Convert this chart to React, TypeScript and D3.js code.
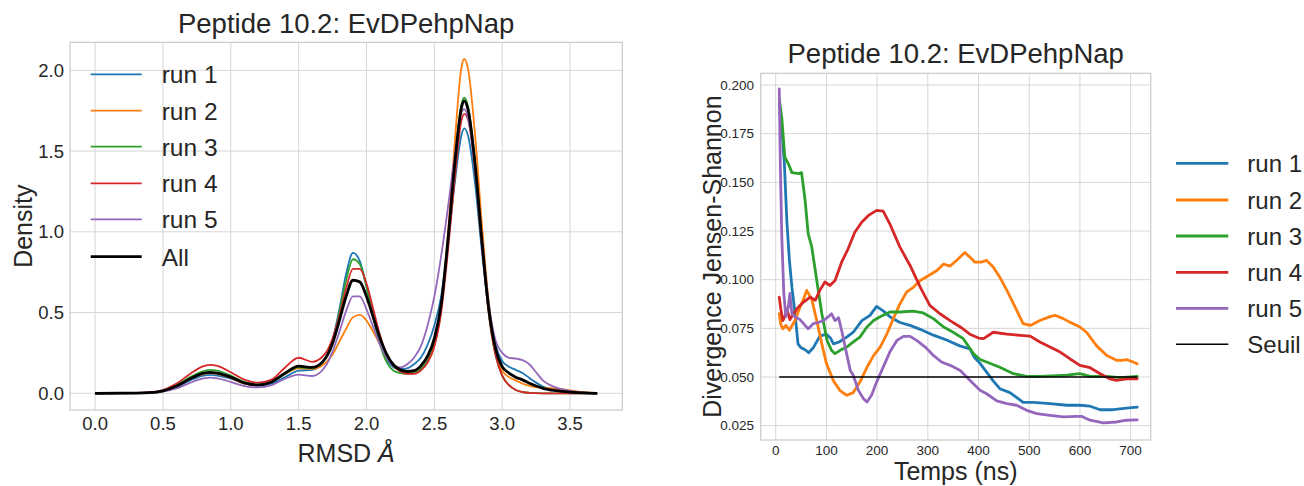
import React from "react";
import * as d3 from "d3";

const FONT = "'Liberation Sans', Arial, sans-serif";
const TXT = "#262626";
const GRID = "#d6d6d6";

// ---------- Left chart: KDE of RMSD ----------
const rmsdX = [0, 0.2, 0.4, 0.5, 0.6, 0.7, 0.8, 0.85, 0.9, 1.0, 1.1, 1.2, 1.3, 1.4, 1.5, 1.6, 1.7, 1.75, 1.8, 1.85, 1.9, 1.95, 2.0, 2.05, 2.1, 2.15, 2.2, 2.25, 2.3, 2.35, 2.4, 2.45, 2.5, 2.55, 2.6, 2.65, 2.7, 2.72, 2.75, 2.8, 2.85, 2.9, 2.95, 3.0, 3.05, 3.1, 3.15, 3.2, 3.25, 3.3, 3.4, 3.5, 3.6, 3.7];

const kdeRun1 = [0, 0.0003, 0.003, 0.013, 0.04, 0.08, 0.11, 0.114, 0.11, 0.09, 0.06, 0.048, 0.06, 0.1, 0.14, 0.145, 0.22, 0.33, 0.52, 0.74, 0.87, 0.82, 0.66, 0.47, 0.31, 0.21, 0.16, 0.15, 0.155, 0.18, 0.22, 0.3, 0.42, 0.6, 0.92, 1.3, 1.6, 1.64, 1.59, 1.3, 0.88, 0.52, 0.3, 0.2, 0.165, 0.145, 0.125, 0.095, 0.066, 0.042, 0.017, 0.007, 0.002, 0];
const kdeRun2 = [0, 0.0004, 0.004, 0.015, 0.045, 0.09, 0.12, 0.125, 0.12, 0.095, 0.06, 0.05, 0.07, 0.12, 0.155, 0.15, 0.19, 0.24, 0.32, 0.4, 0.47, 0.485, 0.45, 0.38, 0.3, 0.22, 0.17, 0.14, 0.125, 0.13, 0.15, 0.2, 0.3, 0.53, 0.98, 1.55, 2.02, 2.07, 2.0, 1.6, 1.05, 0.57, 0.27, 0.14, 0.1, 0.08, 0.06, 0.046, 0.038, 0.034, 0.028, 0.018, 0.007, 0];
const kdeRun3 = [0, 0.0004, 0.004, 0.016, 0.05, 0.1, 0.138, 0.145, 0.14, 0.11, 0.07, 0.052, 0.07, 0.12, 0.16, 0.155, 0.22, 0.32, 0.5, 0.7, 0.83, 0.8, 0.66, 0.47, 0.3, 0.19, 0.14, 0.125, 0.12, 0.125, 0.15, 0.2, 0.3, 0.52, 0.94, 1.42, 1.79, 1.83, 1.77, 1.43, 0.94, 0.5, 0.24, 0.11, 0.05, 0.02, 0.008, 0.003, 0.001, 0, 0, 0, 0, 0];
const kdeRun4 = [0, 0.0005, 0.005, 0.02, 0.06, 0.12, 0.168, 0.176, 0.17, 0.13, 0.085, 0.066, 0.085, 0.16, 0.22, 0.195, 0.25, 0.34, 0.48, 0.65, 0.77, 0.77, 0.68, 0.52, 0.36, 0.24, 0.17, 0.135, 0.12, 0.12, 0.14, 0.19, 0.29, 0.5, 0.88, 1.33, 1.69, 1.73, 1.69, 1.38, 0.92, 0.5, 0.24, 0.11, 0.05, 0.02, 0.008, 0.003, 0.001, 0, 0, 0, 0, 0];
const kdeRun5 = [0, 0.0002, 0.002, 0.01, 0.03, 0.065, 0.092, 0.097, 0.093, 0.07, 0.045, 0.036, 0.05, 0.09, 0.115, 0.107, 0.17, 0.26, 0.38, 0.51, 0.6, 0.6, 0.52, 0.41, 0.3, 0.22, 0.17, 0.16, 0.18, 0.22, 0.29, 0.42, 0.6, 0.85, 1.15, 1.47, 1.74, 1.76, 1.7, 1.4, 0.95, 0.56, 0.33, 0.25, 0.22, 0.215, 0.205, 0.18, 0.13, 0.08, 0.035, 0.015, 0.005, 0];
const kdeAll = [0, 0.0004, 0.004, 0.015, 0.045, 0.09, 0.125, 0.13, 0.125, 0.1, 0.065, 0.052, 0.07, 0.125, 0.168, 0.16, 0.22, 0.31, 0.45, 0.6, 0.7, 0.69, 0.6, 0.47, 0.34, 0.24, 0.175, 0.145, 0.135, 0.14, 0.17, 0.23, 0.34, 0.55, 0.95, 1.42, 1.77, 1.81, 1.75, 1.42, 0.95, 0.53, 0.28, 0.165, 0.125, 0.1, 0.083, 0.062, 0.045, 0.031, 0.016, 0.007, 0.002, 0];

const leftXTicks = [0, 0.5, 1.0, 1.5, 2.0, 2.5, 3.0, 3.5];
const leftYTicks = [0, 0.5, 1.0, 1.5, 2.0];

// ---------- Right chart: Jensen-Shannon divergence over time ----------
const jsRun1: [number, number][] = [[7,0.19],[12,0.178],[17,0.16],[22,0.13],[27,0.11],[32,0.096],[38,0.083],[44,0.067],[50,0.065],[58,0.064],[65,0.0625],[74,0.065],[87,0.071],[100,0.072],[108,0.07],[114,0.067],[125,0.068],[140,0.0705],[153,0.073],[170,0.079],[186,0.0817],[199,0.0863],[212,0.084],[225,0.081],[245,0.078],[265,0.0765],[285,0.0745],[311,0.0715],[337,0.069],[363,0.066],[383,0.0645],[392,0.06],[403,0.057],[416,0.0525],[429,0.048],[442,0.044],[462,0.042],[488,0.037],[508,0.037],[541,0.0363],[574,0.0355],[600,0.0355],[620,0.035],[640,0.0332],[666,0.0332],[692,0.034],[713,0.0345]];
const jsRun2: [number, number][] = [[7,0.0825],[10,0.077],[14,0.0748],[20,0.0765],[27,0.074],[38,0.079],[48,0.086],[55,0.09],[61,0.0945],[71,0.09],[81,0.079],[91,0.067],[100,0.057],[114,0.048],[127,0.043],[140,0.0406],[153,0.042],[166,0.0474],[180,0.055],[193,0.061],[206,0.0654],[219,0.072],[232,0.08],[245,0.0876],[258,0.0936],[272,0.0962],[285,0.0996],[301,0.102],[318,0.1047],[331,0.108],[344,0.107],[357,0.11],[373,0.114],[383,0.1116],[393,0.109],[405,0.109],[416,0.1099],[429,0.1065],[442,0.1013],[456,0.0945],[472,0.086],[488,0.0774],[502,0.0765],[521,0.079],[541,0.081],[551,0.0817],[567,0.08],[580,0.0782],[600,0.0757],[613,0.073],[633,0.066],[653,0.061],[672,0.0586],[682,0.0585],[692,0.0589],[705,0.0577],[713,0.0568]];
const jsRun3: [number, number][] = [[7,0.193],[12,0.183],[18,0.163],[25,0.1595],[32,0.155],[45,0.1545],[51,0.155],[58,0.1407],[64,0.1236],[71,0.117],[81,0.0996],[91,0.0825],[101,0.069],[110,0.0637],[117,0.062],[127,0.0637],[140,0.0654],[153,0.068],[166,0.0705],[180,0.0757],[193,0.079],[206,0.081],[225,0.0834],[245,0.0834],[271,0.0839],[291,0.0829],[311,0.08],[331,0.0757],[350,0.073],[370,0.0697],[390,0.062],[403,0.059],[416,0.0577],[442,0.055],[469,0.0517],[495,0.0503],[521,0.0503],[554,0.0507],[574,0.051],[600,0.0517],[620,0.0503],[653,0.0503],[679,0.0497],[713,0.0503]];
const jsRun4: [number, number][] = [[7,0.091],[10,0.085],[14,0.079],[18,0.081],[22,0.085],[28,0.0795],[35,0.0825],[45,0.086],[55,0.0885],[68,0.091],[78,0.0894],[87,0.0945],[97,0.0988],[107,0.097],[117,0.0996],[130,0.109],[143,0.116],[156,0.1244],[170,0.1296],[183,0.133],[199,0.1356],[212,0.1352],[225,0.1287],[245,0.1167],[265,0.1073],[285,0.0962],[304,0.0868],[324,0.0825],[344,0.079],[364,0.0757],[383,0.072],[400,0.07],[410,0.0697],[429,0.073],[456,0.072],[482,0.0714],[502,0.071],[521,0.068],[541,0.0654],[561,0.0628],[580,0.0594],[600,0.056],[620,0.0548],[640,0.0517],[659,0.0491],[672,0.0483],[692,0.0491],[713,0.0491]];
const jsRun5: [number, number][] = [[7,0.198],[9,0.161],[12,0.122],[16,0.093],[20,0.081],[25,0.086],[28,0.093],[32,0.0825],[38,0.081],[48,0.0795],[58,0.0765],[64,0.0748],[74,0.0774],[84,0.078],[94,0.079],[104,0.081],[110,0.0825],[117,0.079],[124,0.0805],[130,0.074],[137,0.0654],[147,0.0534],[153,0.0509],[163,0.0432],[173,0.0389],[180,0.0372],[189,0.0406],[199,0.0474],[212,0.0551],[225,0.0628],[239,0.0688],[252,0.0709],[265,0.0709],[278,0.0688],[295,0.0654],[311,0.0611],[327,0.0577],[344,0.056],[364,0.0534],[383,0.0483],[403,0.0432],[416,0.0414],[436,0.0377],[456,0.0363],[475,0.0355],[495,0.0329],[515,0.0312],[541,0.0303],[567,0.0295],[594,0.0298],[603,0.0298],[620,0.0278],[646,0.0264],[672,0.0269],[692,0.0278],[713,0.028]];
const seuil: [number, number][] = [[7, 0.05], [713, 0.05]];

const rightXTicks = [0, 100, 200, 300, 400, 500, 600, 700];
const rightYTicks = [0.025, 0.05, 0.075, 0.1, 0.125, 0.15, 0.175, 0.2];

const COLORS = ["#1f77b4", "#ff7f0e", "#2ca02c", "#d62728", "#9467bd"];
const runNames = ["run 1", "run 2", "run 3", "run 4", "run 5"];

export default function App() {
  // left scales
  const L = { x0: 70, x1: 622.3, y0: 42.3, y1: 410 };
  const xL = d3.scaleLinear().domain([-0.185, 3.885]).range([L.x0, L.x1]);
  const yL = d3.scaleLinear().domain([-0.1035, 2.1735]).range([L.y1, L.y0]);
  const kdeSeries = [kdeRun1, kdeRun2, kdeRun3, kdeRun4, kdeRun5];
  const lineL = d3
    .line<number>()
    .x((_, i) => xL(rmsdX[i]))
    .y((d) => yL(d))
    .curve(d3.curveMonotoneX);

  // right scales
  const R = { x0: 760.7, x1: 1150.7, y0: 73.3, y1: 440 };
  const xR = d3.scaleLinear().domain([-29.6, 739.6]).range([R.x0, R.x1]);
  const yR = d3.scaleLinear().domain([0.01765, 0.20601]).range([R.y1, R.y0]);
  const jsSeries = [jsRun1, jsRun2, jsRun3, jsRun4, jsRun5];
  const lineR = d3
    .line<[number, number]>()
    .x((d) => xR(d[0]))
    .y((d) => yR(d[1]));

  const leftLegendRows = [74.3, 110.7, 146.7, 183.3, 219.3, 256.7];
  const rightLegendRows = [163.3, 200, 236, 272.3, 308.3, 344.3];

  const lcx = (L.x0 + L.x1) / 2;
  const lcy = (L.y0 + L.y1) / 2;
  const rcx = (R.x0 + R.x1) / 2;
  const rcy = (R.y0 + R.y1) / 2;

  return (
    <svg
      width={1304}
      height={486}
      style={{ position: "absolute", left: 0, top: 0, background: "#fff" }}
      fontFamily={FONT}
    >
      {/* ===== LEFT ===== */}
      <g>
        {leftXTicks.map((t) => (
          <line key={"lgx" + t} x1={xL(t)} x2={xL(t)} y1={L.y0} y2={L.y1} stroke={GRID} strokeWidth={1} />
        ))}
        {leftYTicks.map((t) => (
          <line key={"lgy" + t} x1={L.x0} x2={L.x1} y1={yL(t)} y2={yL(t)} stroke={GRID} strokeWidth={1} />
        ))}
        <rect x={L.x0} y={L.y0} width={L.x1 - L.x0} height={L.y1 - L.y0} fill="none" stroke="#cccccc" strokeWidth={1.25} />
        {kdeSeries.map((s, i) => (
          <path key={"kde" + i} d={lineL(s) || ""} fill="none" stroke={COLORS[i]} strokeWidth={1.8} />
        ))}
        <path d={lineL(kdeAll) || ""} fill="none" stroke="#000" strokeWidth={2.8} />
        {leftXTicks.map((t) => (
          <text key={"lxt" + t} x={xL(t)} y={430} textAnchor="middle" fontSize={18.5} fill={TXT}>
            {t.toFixed(1)}
          </text>
        ))}
        {leftYTicks.map((t) => (
          <text key={"lyt" + t} x={64} y={yL(t) + 6.6} textAnchor="end" fontSize={18.5} fill={TXT}>
            {t.toFixed(1)}
          </text>
        ))}
        <text x={lcx} y={33.3} textAnchor="middle" fontSize={27.5} fill={TXT}>
          Peptide 10.2: EvDPehpNap
        </text>
        <text x={lcx} y={462} textAnchor="middle" fontSize={25} fill={TXT}>
          RMSD <tspan fontStyle="italic">Å</tspan>
        </text>
        <text transform={`translate(32,${lcy}) rotate(-90)`} textAnchor="middle" fontSize={25} fill={TXT}>
          Density
        </text>
        {/* legend */}
        {runNames.concat(["All"]).map((name, i) => (
          <g key={"ll" + i}>
            <line
              x1={90.7}
              x2={141.7}
              y1={leftLegendRows[i]}
              y2={leftLegendRows[i]}
              stroke={i < 5 ? COLORS[i] : "#000"}
              strokeWidth={i < 5 ? 1.8 : 2.8}
            />
            <text x={161.7} y={leftLegendRows[i]} dy="0.36em" fontSize={24.5} fill={TXT}>
              {name}
            </text>
          </g>
        ))}
      </g>

      {/* ===== RIGHT ===== */}
      <g>
        {rightXTicks.map((t) => (
          <line key={"rgx" + t} x1={xR(t)} x2={xR(t)} y1={R.y0} y2={R.y1} stroke={GRID} strokeWidth={1} />
        ))}
        {rightYTicks.map((t) => (
          <line key={"rgy" + t} x1={R.x0} x2={R.x1} y1={yR(t)} y2={yR(t)} stroke={GRID} strokeWidth={1} />
        ))}
        <rect x={R.x0} y={R.y0} width={R.x1 - R.x0} height={R.y1 - R.y0} fill="none" stroke="#cccccc" strokeWidth={1.25} />
        {jsSeries.map((s, i) => (
          <path key={"js" + i} d={lineR(s) || ""} fill="none" stroke={COLORS[i]} strokeWidth={2.8} strokeLinejoin="round" strokeLinecap="round" />
        ))}
        <path d={lineR(seuil) || ""} fill="none" stroke="#000" strokeWidth={1.6} />
        {rightXTicks.map((t) => (
          <text key={"rxt" + t} x={xR(t)} y={455} textAnchor="middle" fontSize={13.5} fill={TXT}>
            {t}
          </text>
        ))}
        {rightYTicks.map((t) => (
          <text key={"ryt" + t} x={754} y={yR(t) + 4.8} textAnchor="end" fontSize={13.5} fill={TXT}>
            {t.toFixed(3)}
          </text>
        ))}
        <text x={rcx} y={63.3} textAnchor="middle" fontSize={27.5} fill={TXT}>
          Peptide 10.2: EvDPehpNap
        </text>
        <text x={rcx} y={480} textAnchor="middle" fontSize={25} fill={TXT}>
          Temps (ns)
        </text>
        <text transform={`translate(720.5,${rcy}) rotate(-90)`} textAnchor="middle" fontSize={25} fill={TXT}>
          Divergence Jensen-Shannon
        </text>
        {runNames.concat(["Seuil"]).map((name, i) => (
          <g key={"rl" + i}>
            <line
              x1={1176}
              x2={1228.3}
              y1={rightLegendRows[i]}
              y2={rightLegendRows[i]}
              stroke={i < 5 ? COLORS[i] : "#000"}
              strokeWidth={i < 5 ? 2.8 : 1.6}
            />
            <text x={1247.3} y={rightLegendRows[i]} dy="0.36em" fontSize={24} fill={TXT}>
              {name}
            </text>
          </g>
        ))}
      </g>
    </svg>
  );
}
